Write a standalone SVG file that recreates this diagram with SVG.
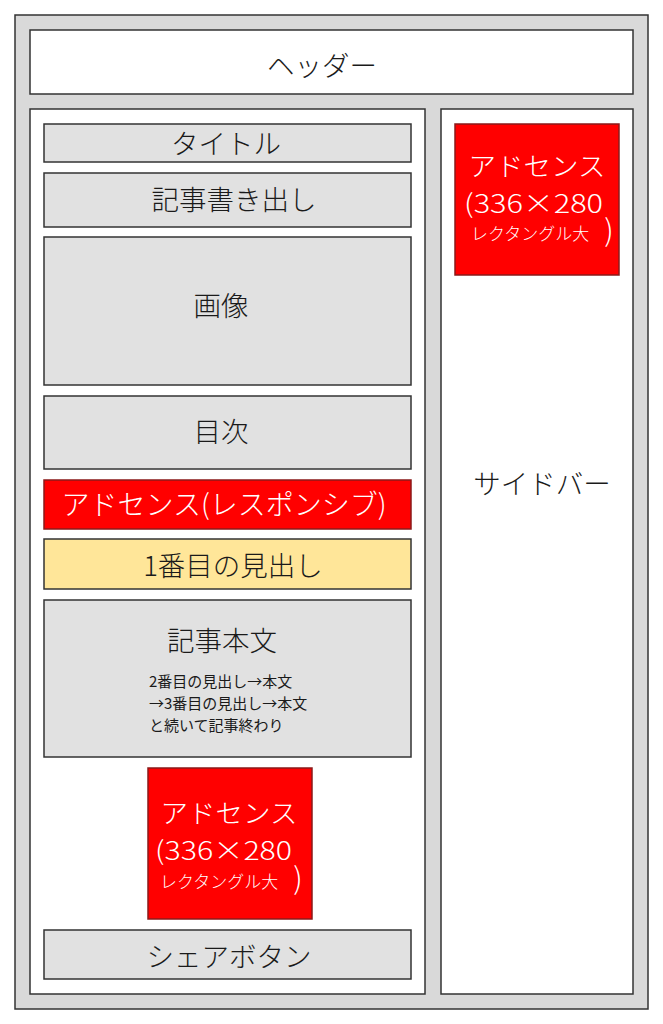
<svg xmlns="http://www.w3.org/2000/svg" width="663" height="1024" viewBox="0 0 663 1024">
<style>
text{font-family:"Noto Sans CJK JP","Noto Sans",sans-serif;font-weight:300;dominant-baseline:central;text-anchor:middle;fill:#1a1a1a}
.frame{fill:#d9d9d9;stroke:#333;stroke-width:1.5}
.white{fill:#fff;stroke:#333;stroke-width:1.5}
.gray{fill:#e1e1e1;stroke:#333;stroke-width:1.5}
.red{fill:#ff0000;stroke:#8b1a1a;stroke-width:1.5}
.yellow{fill:#ffe699;stroke:#333;stroke-width:1.5}
.w{fill:#fff}
.big{font-size:27.5px}
.sm{font-size:15px;text-anchor:start;font-weight:400}
.st{text-anchor:start}
</style>
<rect class="frame" x="15" y="15" width="633" height="994"/>
<g id="header"><rect class="white" x="30" y="30" width="603" height="64"/><text class="big" x="322" y="64">ヘッダー</text></g>
<g id="main"><rect class="white" x="30" y="109" width="395" height="885"/></g>
<g id="sidebar"><rect class="white" x="441" y="109" width="192" height="885"/><text class="big" x="542" y="482">サイドバー</text></g>
<g id="title"><rect class="gray" x="44" y="124" width="367" height="38"/><text class="big" x="226" y="142">タイトル</text></g>
<g id="intro"><rect class="gray" x="44" y="173" width="367" height="54"/><text class="big" x="234" y="198">記事書き出し</text></g>
<g id="image"><rect class="gray" x="44" y="237" width="367" height="148"/><text class="big" x="221" y="304">画像</text></g>
<g id="toc"><rect class="gray" x="44" y="396" width="367" height="73"/><text class="big" x="221" y="430">目次</text></g>
<g id="ad-responsive"><rect class="red" x="44" y="480" width="367" height="49"/><text class="w" x="224" y="503" font-size="28">アドセンス(レスポンシブ)</text></g>
<g id="heading1"><rect class="yellow" x="44" y="539" width="367" height="50"/><text class="big" x="233" y="564">1番目の見出し</text></g>
<g id="body"><rect class="gray" x="44" y="600" width="367" height="157"/><text class="big" x="222" y="639">記事本文</text>
<text class="sm" x="149" y="680">2番目の見出し→本文</text>
<text class="sm" x="149" y="702">→3番目の見出し→本文</text>
<text class="sm" x="149" y="724">と続いて記事終わり</text></g>
<g id="ad-bottom"><rect class="red" x="148" y="768" width="164" height="151"/>
<text class="w" x="229" y="811" font-size="26" textLength="137" lengthAdjust="spacingAndGlyphs">アドセンス</text>
<text class="w st" x="155" y="848" font-size="26" textLength="137" lengthAdjust="spacingAndGlyphs">(336×280</text>
<text class="w st" x="160" y="880" font-size="17">レクタングル大</text>
<text class="w" x="298" y="876" font-size="30">)</text></g>
<g id="ad-side"><rect class="red" x="455" y="124" width="164" height="151"/>
<text class="w" x="537" y="164" font-size="26" textLength="137" lengthAdjust="spacingAndGlyphs">アドセンス</text>
<text class="w st" x="464" y="201" font-size="26" textLength="139" lengthAdjust="spacingAndGlyphs">(336×280</text>
<text class="w st" x="471" y="232" font-size="17">レクタングル大</text>
<text class="w" x="609" y="228" font-size="30">)</text></g>
<g id="share"><rect class="gray" x="44" y="930" width="367" height="49"/><text class="big" x="229" y="955">シェアボタン</text></g>
<g id="connectors"/>
</svg>
